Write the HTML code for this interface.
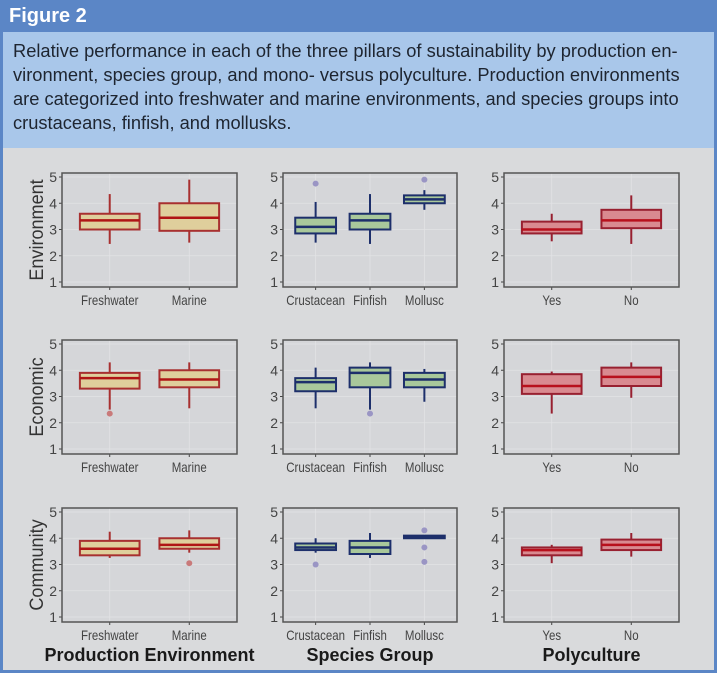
<!DOCTYPE html>
<html><head><meta charset="utf-8"><style>
body{margin:0;width:717px;height:685px;background:#fff;font-family:"Liberation Sans",sans-serif;overflow:hidden}
#hdr{position:absolute;left:0;top:0;width:717px;height:32px;background:#5b86c6;color:#fff;font-weight:bold;font-size:20px;line-height:32px;padding-left:9px;box-sizing:border-box}
#cap{position:absolute;left:0;top:32px;width:717px;height:116px;background:#a9c7ea;border-left:3px solid #5b86c6;border-right:3px solid #5b86c6;box-sizing:border-box;padding:7px 0 0 10px;font-size:18.3px;line-height:24px;color:#1e2530}
#body{position:absolute;left:0;top:148px;width:717px;height:525px;background:#d9dadc;border:3px solid #5b86c6;border-top:none;box-sizing:border-box}
svg{position:absolute;left:0;top:0}
</style></head><body>
<div id="hdr">Figure 2</div>
<div id="cap">Relative performance in each of the three pillars of sustainability by production en-<br>vironment, species group, and mono- versus polyculture. Production environments<br>are categorized into freshwater and marine environments, and species groups into<br>crustaceans, finfish, and mollusks.</div>
<div id="body"></div>
<svg id="chart" width="717" height="685"></svg>
<script>
const rowNames=["Environment","Economic","Community"];
const colNames=["Production Environment","Species Group","Polyculture"];
const catsProd=["Freshwater","Marine"];
const catsSpec=["Crustacean","Finfish","Mollusc"];
const catsPoly=["Yes","No"];
const yTicks=[1,2,3,4,5];
// [lo,q1,med,q3,hi] per category
const envProd=[[2.45,3.0,3.35,3.6,4.35],[2.5,2.95,3.45,4.0,4.9]];
const envSpec=[[2.5,2.85,3.1,3.45,4.05],[2.45,3.0,3.35,3.6,4.35],[3.75,4.0,4.15,4.3,4.5]];
const envPoly=[[2.55,2.85,3.0,3.3,3.6],[2.45,3.05,3.35,3.75,4.3]];
const ecoProd=[[2.5,3.3,3.7,3.9,4.3],[2.55,3.35,3.65,4.0,4.3]];
const ecoSpec=[[2.55,3.2,3.55,3.7,4.1],[2.5,3.35,3.9,4.1,4.3],[2.8,3.35,3.65,3.9,4.05]];
const ecoPoly=[[2.35,3.1,3.4,3.85,3.95],[2.95,3.4,3.75,4.1,4.3]];
const comProd=[[3.25,3.35,3.6,3.9,4.25],[3.45,3.6,3.75,4.0,4.3]];
const comSpec=[[3.45,3.55,3.65,3.8,4.0],[3.25,3.4,3.65,3.9,4.2],[4.0,4.0,4.05,4.1,4.1]];
const comPoly=[[3.05,3.35,3.55,3.65,3.75],[3.3,3.55,3.75,3.95,4.2]];
// outliers per category
const envProdOut=[[],[]];
const envSpecOut=[[4.75],[],[4.9]];
const envPolyOut=[[],[]];
const ecoProdOut=[[2.35],[]];
const ecoSpecOut=[[],[2.35],[]];
const ecoPolyOut=[[],[]];
const comProdOut=[[],[3.05]];
const comSpecOut=[[3.0],[],[4.3,3.65,3.1]];
const comPolyOut=[[],[]];

const NS="http://www.w3.org/2000/svg";
const svg=document.getElementById('chart');
function mk(tag,attrs,parent){const e=document.createElementNS(NS,tag);for(const k in attrs)e.setAttribute(k,attrs[k]);(parent||svg).appendChild(e);return e;}
function squeeze(t,f){const w=t.getComputedTextLength();if(w>0){t.setAttribute('textLength',w*f);t.setAttribute('lengthAdjust','spacingAndGlyphs');}}
const colX=[[62,237],[283,457],[504,679]];
const rowTop=[173,340,508];
const PH=114;
const styles=[
 {fill:"#dfcf9c",stroke:"#a83030",med:"#b01515",out:"#c97a7a"},
 {fill:"#a9c89b",stroke:"#1d2f6b",med:"#1d2f6b",out:"#9a95c4"},
 {fill:"#d98a90",stroke:"#982030",med:"#b8101c",out:"#c97a7a"}];
const data=[[envProd,envSpec,envPoly],[ecoProd,ecoSpec,ecoPoly],[comProd,comSpec,comPoly]];
const outs=[[envProdOut,envSpecOut,envPolyOut],[ecoProdOut,ecoSpecOut,ecoPolyOut],[comProdOut,comSpecOut,comPolyOut]];
const cats=[catsProd,catsSpec,catsPoly];

for(let r=0;r<3;r++){
 const top=rowTop[r];
 const yS=v=>top+4+(5-v)*(105/4);
 const yt=mk('text',{x:0,y:0,'font-size':19,fill:'#333','text-anchor':'middle',transform:`translate(43,${top+PH/2}) rotate(-90)`});
 
 
 yt.textContent=rowNames[r];
 squeeze(yt,0.95);
 for(let c=0;c<3;c++){
  const [x0,x1]=colX[c];const cs=cats[c];const n=cs.length;
  const unit=(x1-x0)/(n+0.2);
  const xS=i=>x0+(i+0.6)*unit;
  const st=styles[c];
  const g=mk('g',{});
  
  
  mk('rect',{x:x0,y:top,width:x1-x0,height:PH,fill:'#d5d6d9'},g);
  for(const t of yTicks){mk('line',{x1:x0,x2:x1,y1:yS(t),y2:yS(t),stroke:'#e2e3e5','stroke-width':0.8},g);
   mk('line',{x1:x0-3,x2:x0,y1:yS(t),y2:yS(t),stroke:'#444'},g);
   const tl=mk('text',{x:x0-5,y:yS(t)+5,'font-size':14,fill:'#444','text-anchor':'end'},g);
   
   
   tl.textContent=t;}
  for(let i=0;i<n;i++){
   mk('line',{x1:xS(i),x2:xS(i),y1:top,y2:top+PH,stroke:'#e2e3e5','stroke-width':0.8},g);
   mk('line',{x1:xS(i),x2:xS(i),y1:top+PH,y2:top+PH+3,stroke:'#444'},g);
   const xl=mk('text',{x:xS(i),y:top+PH+18,'font-size':14,fill:'#444','text-anchor':'middle'},g);
   
   
   xl.textContent=cs[i];
   squeeze(xl,0.82);
   const d=data[r][c][i];const bw=unit*0.75;const cx=xS(i);
   const b=mk('g',{},g);
   
   
   mk('line',{x1:cx,x2:cx,y1:yS(d[0]),y2:yS(d[4]),stroke:st.stroke,'stroke-width':2},b);
   mk('rect',{x:cx-bw/2,y:yS(d[3]),width:bw,height:Math.max(yS(d[1])-yS(d[3]),1),fill:st.fill,stroke:st.stroke,'stroke-width':2},b);
   mk('line',{x1:cx-bw/2,x2:cx+bw/2,y1:yS(d[2]),y2:yS(d[2]),stroke:st.med,'stroke-width':2.5},b);
   for(const o of outs[r][c][i]){const p=mk('circle',{cx:cx,cy:yS(o),r:3,fill:st.out},b);
    
    }
  }
  mk('rect',{x:x0,y:top,width:x1-x0,height:PH,fill:'none',stroke:'#555','stroke-width':1.5},g);
  if(r===2){const t=mk('text',{x:(x0+x1)/2,y:661,'font-size':18,'font-weight':'bold',fill:'#1a1a1a','text-anchor':'middle'});
   
   
   t.textContent=colNames[c];}
 }
}
</script>
</body></html>
